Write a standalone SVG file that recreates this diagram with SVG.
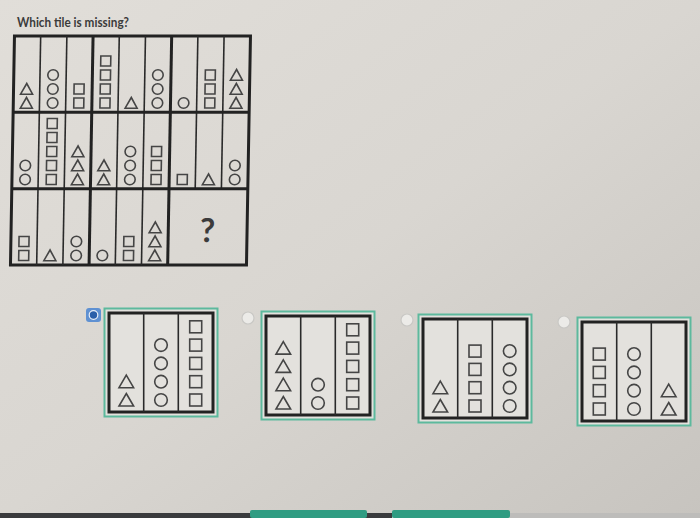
<svg xmlns="http://www.w3.org/2000/svg" width="700" height="518" viewBox="0 0 700 518">
<defs>
<linearGradient id="bg" x1="0" y1="0" x2="1" y2="1">
<stop offset="0" stop-color="#e1ded9"/>
<stop offset="0.5" stop-color="#d9d6d1"/>
<stop offset="1" stop-color="#c7c4bf"/>
</linearGradient>
<polygon id="t" points="0,-5.5 6,5.2 -6,5.2"/>
<circle id="c" r="5.3"/>
<rect id="s" x="-5" y="-5" width="10" height="10"/>
<polygon id="T" points="0,-6.5 7.3,6 -7.3,6"/>
<circle id="C" r="6.3"/>
<rect id="S" x="-6" y="-6" width="12" height="12"/>
</defs>
<style>
.sh{fill:none;stroke:#454545;stroke-width:1.6}
.thin{stroke:#2a2a2a;stroke-width:1.6}
.thick{stroke:#222;stroke-width:3}
.box{fill:none;stroke:#222;stroke-width:3}
.green{fill:#e3e1dd;stroke:#5db99d;stroke-width:2}
.radio{fill:#ecebe8;stroke:#c9c8c5;stroke-width:1.2}
.txt{font-family:Lato,"Liberation Sans",sans-serif;fill:#3b3b3b}
</style>
<rect width="700" height="518" fill="url(#bg)"/>
<g id="title"><text class="txt" x="17" y="27" font-size="13" font-weight="bold" textLength="112" lengthAdjust="spacingAndGlyphs">Which tile is missing?</text></g>

<g id="grid" transform="translate(2.6 0) skewX(-1)">
<rect class="box" x="12.5" y="36" width="236" height="229"/>
<g id="grid-lines">
<line class="thin" x1="38.7" y1="36" x2="38.7" y2="265"/>
<line class="thin" x1="64.9" y1="36" x2="64.9" y2="265"/>
<line class="thick" x1="91.1" y1="36" x2="91.1" y2="265"/>
<line class="thin" x1="117.3" y1="36" x2="117.3" y2="265"/>
<line class="thin" x1="143.5" y1="36" x2="143.5" y2="265"/>
<line class="thick" x1="169.7" y1="36" x2="169.7" y2="265"/>
<line class="thin" x1="195.9" y1="36" x2="195.9" y2="188.7"/>
<line class="thin" x1="222.1" y1="36" x2="222.1" y2="188.7"/>
<line class="thick" x1="12.5" y1="112.3" x2="248.5" y2="112.3"/>
<line class="thick" x1="12.5" y1="188.7" x2="248.5" y2="188.7"/>
</g>
<g id="row1" class="sh">
<use href="#t" x="25.6" y="103"/><use href="#t" x="25.6" y="89"/>
<use href="#c" x="51.8" y="103"/><use href="#c" x="51.8" y="89"/><use href="#c" x="51.8" y="75"/>
<use href="#s" x="78" y="103"/><use href="#s" x="78" y="89"/>
<use href="#s" x="104.2" y="103"/><use href="#s" x="104.2" y="89"/><use href="#s" x="104.2" y="75"/><use href="#s" x="104.2" y="61"/>
<use href="#t" x="130.4" y="103"/>
<use href="#c" x="156.6" y="103"/><use href="#c" x="156.6" y="89"/><use href="#c" x="156.6" y="75"/>
<use href="#c" x="182.8" y="103"/>
<use href="#s" x="209" y="103"/><use href="#s" x="209" y="89"/><use href="#s" x="209" y="75"/>
<use href="#t" x="235.2" y="103"/><use href="#t" x="235.2" y="89"/><use href="#t" x="235.2" y="75"/>
</g>
<g id="row2" class="sh">
<use href="#c" x="25.6" y="179.5"/><use href="#c" x="25.6" y="165.5"/>
<use href="#s" x="51.8" y="179.5"/><use href="#s" x="51.8" y="165.5"/><use href="#s" x="51.8" y="151.5"/><use href="#s" x="51.8" y="137.5"/><use href="#s" x="51.8" y="123.5"/>
<use href="#t" x="78" y="179.5"/><use href="#t" x="78" y="165.5"/><use href="#t" x="78" y="151.5"/>
<use href="#t" x="104.2" y="179.5"/><use href="#t" x="104.2" y="165.5"/>
<use href="#c" x="130.4" y="179.5"/><use href="#c" x="130.4" y="165.5"/><use href="#c" x="130.4" y="151.5"/>
<use href="#s" x="156.6" y="179.5"/><use href="#s" x="156.6" y="165.5"/><use href="#s" x="156.6" y="151.5"/>
<use href="#s" x="182.8" y="179.5"/>
<use href="#t" x="209" y="179.5"/>
<use href="#c" x="235.2" y="179.5"/><use href="#c" x="235.2" y="165.5"/>
</g>
<g id="row3" class="sh">
<use href="#s" x="25.6" y="255.5"/><use href="#s" x="25.6" y="241.5"/>
<use href="#t" x="51.8" y="255.5"/>
<use href="#c" x="78" y="255.5"/><use href="#c" x="78" y="241.5"/>
<use href="#c" x="104.2" y="255.5"/>
<use href="#s" x="130.4" y="255.5"/><use href="#s" x="130.4" y="241.5"/>
<use href="#t" x="156.6" y="255.5"/><use href="#t" x="156.6" y="241.5"/><use href="#t" x="156.6" y="227.5"/>
</g>
<text class="txt" x="209" y="242" font-size="33" font-weight="bold" text-anchor="middle" fill="#2a2a2a">?</text>
</g>

<g id="option1" transform="translate(109 313)">
<rect class="green" x="-4.5" y="-4.5" width="113" height="108"/>
<rect class="box" x="0" y="0" width="104" height="99"/>
<line class="thin" x1="34.7" y1="0" x2="34.7" y2="99"/><line class="thin" x1="69.3" y1="0" x2="69.3" y2="99"/>
<g class="sh">
<use href="#T" x="17.3" y="87"/><use href="#T" x="17.3" y="68.7"/>
<use href="#C" x="52" y="87"/><use href="#C" x="52" y="68.7"/><use href="#C" x="52" y="50.4"/><use href="#C" x="52" y="32.1"/>
<use href="#S" x="86.7" y="87"/><use href="#S" x="86.7" y="68.7"/><use href="#S" x="86.7" y="50.4"/><use href="#S" x="86.7" y="32.1"/><use href="#S" x="86.7" y="13.8"/>
</g>
</g>
<g id="radio1">
<rect x="86" y="308" width="15" height="14" rx="3" fill="#5f91d2"/>
<circle cx="93.5" cy="315" r="4.3" fill="#2b5fa9" stroke="#e9eef7" stroke-width="1.2"/>
</g>

<g id="option2" transform="translate(266 316)">
<rect class="green" x="-4.5" y="-4.5" width="113" height="108"/>
<rect class="box" x="0" y="0" width="104" height="99"/>
<line class="thin" x1="34.7" y1="0" x2="34.7" y2="99"/><line class="thin" x1="69.3" y1="0" x2="69.3" y2="99"/>
<g class="sh">
<use href="#T" x="17.3" y="87"/><use href="#T" x="17.3" y="68.7"/><use href="#T" x="17.3" y="50.4"/><use href="#T" x="17.3" y="32.1"/>
<use href="#C" x="52" y="87"/><use href="#C" x="52" y="68.7"/>
<use href="#S" x="86.7" y="87"/><use href="#S" x="86.7" y="68.7"/><use href="#S" x="86.7" y="50.4"/><use href="#S" x="86.7" y="32.1"/><use href="#S" x="86.7" y="13.8"/>
</g>
</g>
<g id="radio2"><circle class="radio" cx="248" cy="318" r="6"/></g>

<g id="option3" transform="translate(423 319)">
<rect class="green" x="-4.5" y="-4.5" width="113" height="108"/>
<rect class="box" x="0" y="0" width="104" height="99"/>
<line class="thin" x1="34.7" y1="0" x2="34.7" y2="99"/><line class="thin" x1="69.3" y1="0" x2="69.3" y2="99"/>
<g class="sh">
<use href="#T" x="17.3" y="87"/><use href="#T" x="17.3" y="68.7"/>
<use href="#S" x="52" y="87"/><use href="#S" x="52" y="68.7"/><use href="#S" x="52" y="50.4"/><use href="#S" x="52" y="32.1"/>
<use href="#C" x="86.7" y="87"/><use href="#C" x="86.7" y="68.7"/><use href="#C" x="86.7" y="50.4"/><use href="#C" x="86.7" y="32.1"/>
</g>
</g>
<g id="radio3"><circle class="radio" cx="407" cy="320" r="6"/></g>

<g id="option4" transform="translate(582 322)">
<rect class="green" x="-4.5" y="-4.5" width="113" height="108"/>
<rect class="box" x="0" y="0" width="104" height="99"/>
<line class="thin" x1="34.7" y1="0" x2="34.7" y2="99"/><line class="thin" x1="69.3" y1="0" x2="69.3" y2="99"/>
<g class="sh">
<use href="#S" x="17.3" y="87"/><use href="#S" x="17.3" y="68.7"/><use href="#S" x="17.3" y="50.4"/><use href="#S" x="17.3" y="32.1"/>
<use href="#C" x="52" y="87"/><use href="#C" x="52" y="68.7"/><use href="#C" x="52" y="50.4"/><use href="#C" x="52" y="32.1"/>
<use href="#T" x="86.7" y="87"/><use href="#T" x="86.7" y="68.7"/>
</g>
</g>
<g id="radio4"><circle class="radio" cx="564" cy="322" r="6"/></g>

<g id="bottom-bar">
<rect x="0" y="513" width="392" height="5" fill="#3a3b3d"/>
<rect x="510" y="513" width="190" height="5" fill="#bdbcba"/>
<rect x="250" y="510" width="117" height="8" rx="2" fill="#2f9c82"/>
<rect x="392" y="510" width="118" height="8" rx="2" fill="#2f9c82"/>
</g>
<g id="connectors"/>
</svg>
